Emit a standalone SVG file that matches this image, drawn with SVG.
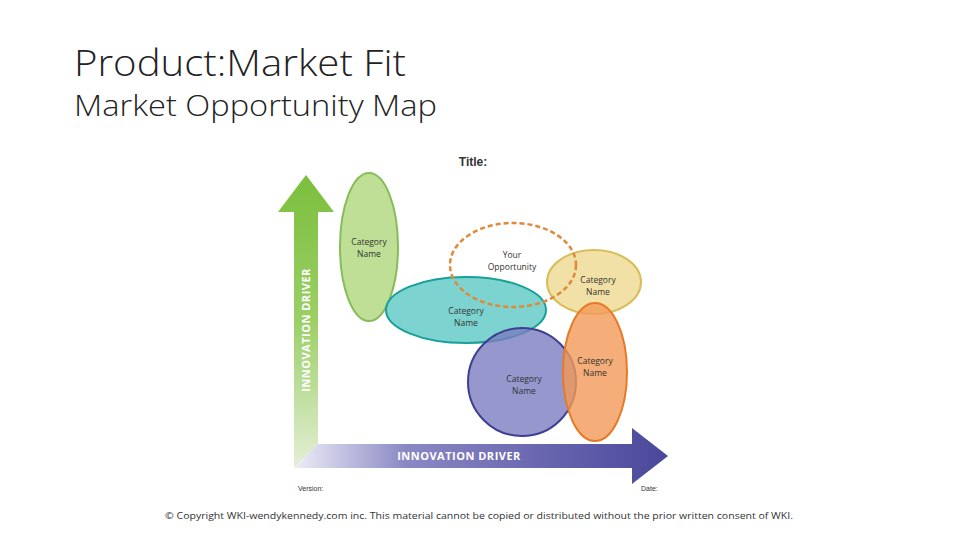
<svg xmlns="http://www.w3.org/2000/svg" width="960" height="540" viewBox="0 0 960 540">
<style>
.t{font-family:"Open Sans","Liberation Sans",sans-serif;font-weight:300;fill:#222}
.c{font-family:"Open Sans","Liberation Sans",sans-serif;font-size:8.5px;fill:#333;text-anchor:middle}
</style>
<defs>
<linearGradient id="gv" x1="0" y1="1" x2="0" y2="0"><stop offset="0" stop-color="#e4efd6"/><stop offset="0.5" stop-color="#9ccf68"/><stop offset="1" stop-color="#7bbf3c"/></linearGradient>
<linearGradient id="gh" x1="0" y1="0" x2="1" y2="0"><stop offset="0" stop-color="#eeeef7"/><stop offset="0.3" stop-color="#8a88c4"/><stop offset="1" stop-color="#4a479c"/></linearGradient>
</defs>
<rect width="960" height="540" fill="#fff"/>
<text class="t" x="74" y="76" font-size="37" textLength="332" lengthAdjust="spacingAndGlyphs">Product:Market Fit</text>
<text class="t" x="74" y="116" font-size="29" textLength="363" lengthAdjust="spacingAndGlyphs">Market Opportunity Map</text>
<text x="473" y="166" font-family="Liberation Sans,sans-serif" font-weight="bold" font-size="12" fill="#333" text-anchor="middle">Title:</text>
<g id="vaxis"><polygon points="294,468 294,212 278,212 306,175 334,212 318,212 318,444" fill="url(#gv)"/>
<text x="310" y="330" transform="rotate(-90 310 330)" font-family="Open Sans,Liberation Sans,sans-serif" font-weight="bold" font-size="11" fill="#fff" text-anchor="middle" letter-spacing="0.5">INNOVATION DRIVER</text></g>
<g id="haxis"><polygon points="294,468 318,444 632,444 632,428 668,456 632,484 632,468" fill="url(#gh)"/>
<text x="459" y="460" font-family="Open Sans,Liberation Sans,sans-serif" font-weight="bold" font-size="11" fill="#fff" text-anchor="middle" letter-spacing="0.5">INNOVATION DRIVER</text></g>
<text x="298" y="491" font-family="Liberation Sans,sans-serif" font-size="7" fill="#333">Version:</text>
<text x="641" y="491" font-family="Liberation Sans,sans-serif" font-size="7" fill="#333">Date:</text>
<g id="green"><ellipse cx="369" cy="247" rx="29" ry="74" fill="#b9dc8c" stroke="#7ab648" stroke-width="2" opacity="0.9"/><text class="c" x="369" y="245">Category</text><text class="c" x="369" y="257">Name</text></g>
<g id="teal"><ellipse cx="466" cy="310" rx="80" ry="33" fill="#5cc8c4" fill-opacity="0.8" stroke="#18a09a" stroke-width="2"/><text class="c" x="466" y="314">Category</text><text class="c" x="466" y="326">Name</text></g>
<g id="yellow"><ellipse cx="594" cy="282" rx="47" ry="32" fill="#f0dc98" fill-opacity="0.85" stroke="#d8bd58" stroke-width="2"/><text class="c" x="598" y="283">Category</text><text class="c" x="598" y="295">Name</text></g>
<g id="blue"><ellipse cx="522" cy="382" rx="54" ry="54" fill="#7b7dc0" fill-opacity="0.8" stroke="#3e3f92" stroke-width="2"/><text class="c" x="524" y="382">Category</text><text class="c" x="524" y="394">Name</text></g>
<g id="orange"><ellipse cx="595" cy="372" rx="32" ry="69" fill="#f29a58" fill-opacity="0.8" stroke="#e77a2a" stroke-width="2"/><text class="c" x="595" y="364">Category</text><text class="c" x="595" y="376">Name</text></g>
<g id="opportunity"><ellipse cx="513" cy="265" rx="63" ry="42" fill="none" stroke="#e0893a" stroke-width="2.5" stroke-dasharray="5,3"/><text class="c" x="512" y="258">Your</text><text class="c" x="512" y="270">Opportunity</text></g>
<g id="connectors"/>
<text x="479" y="519" font-family="Open Sans,Liberation Sans,sans-serif" font-size="9.6" fill="#333" text-anchor="middle" textLength="628" lengthAdjust="spacingAndGlyphs">© Copyright WKI-wendykennedy.com inc. This material cannot be copied or distributed without the prior written consent of WKI.</text>
</svg>
